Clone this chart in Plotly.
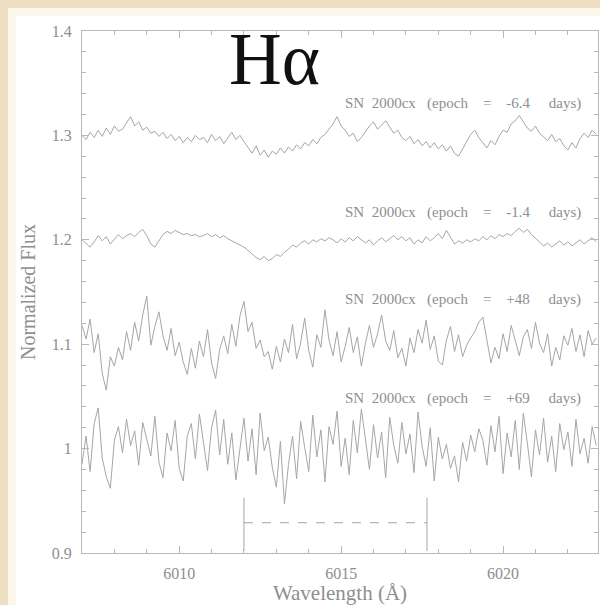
import numpy as np
import plotly.graph_objects as go

# Wavelength grid (Angstrom), 0.125 A sampling
wave_start = 6007.0
wave_step = 0.125
n_pix = 128
wavelength = np.round(wave_start + wave_step * np.arange(n_pix), 3)

# Normalized flux for each epoch (already offset for display)
flux_m64 = [
    1.300, 1.296, 1.303, 1.298, 1.305, 1.299, 1.307, 1.301, 1.309, 1.304,
    1.306, 1.312, 1.318, 1.309, 1.313, 1.305, 1.308, 1.302, 1.304, 1.299,
    1.303, 1.297, 1.301, 1.295, 1.299, 1.293, 1.298, 1.294, 1.300, 1.296,
    1.298, 1.293, 1.301, 1.295, 1.299, 1.292, 1.297, 1.303, 1.296, 1.300,
    1.294, 1.288, 1.283, 1.290, 1.281, 1.286, 1.279, 1.285, 1.282, 1.288,
    1.283, 1.289, 1.285, 1.291, 1.287, 1.293, 1.290, 1.296, 1.292, 1.298,
    1.301, 1.306, 1.311, 1.318, 1.309, 1.305, 1.299, 1.302, 1.294, 1.298,
    1.304, 1.309, 1.313, 1.306, 1.310, 1.314, 1.308, 1.302, 1.305, 1.298,
    1.295, 1.299, 1.292, 1.296, 1.290, 1.294, 1.288, 1.293, 1.287, 1.291,
    1.285, 1.290, 1.283, 1.280, 1.287, 1.294, 1.301, 1.305, 1.298, 1.293,
    1.288, 1.295, 1.291, 1.299, 1.305, 1.303, 1.311, 1.314, 1.319, 1.313,
    1.307, 1.304, 1.309, 1.302, 1.298, 1.295, 1.301, 1.294, 1.297, 1.290,
    1.286, 1.293, 1.288, 1.297, 1.302, 1.298, 1.305, 1.301,
]

flux_m14 = [
    1.200, 1.196, 1.193, 1.198, 1.204, 1.199, 1.203, 1.196, 1.201, 1.205,
    1.201, 1.204, 1.206, 1.203, 1.207, 1.210, 1.204, 1.196, 1.193, 1.199,
    1.205, 1.208, 1.206, 1.209, 1.207, 1.205, 1.206, 1.204, 1.205, 1.203,
    1.204, 1.206, 1.203, 1.205, 1.202, 1.204, 1.201, 1.199, 1.197, 1.195,
    1.193, 1.190, 1.186, 1.183, 1.181, 1.184, 1.180, 1.182, 1.186, 1.184,
    1.188, 1.191, 1.195, 1.193, 1.197, 1.199, 1.196, 1.200, 1.198, 1.201,
    1.199, 1.202, 1.200, 1.197, 1.201, 1.198, 1.202, 1.199, 1.203, 1.200,
    1.197, 1.200, 1.195, 1.199, 1.202, 1.198, 1.201, 1.204, 1.200, 1.203,
    1.199, 1.202, 1.196, 1.200, 1.197, 1.203, 1.199, 1.202, 1.206, 1.201,
    1.209, 1.203, 1.196, 1.199, 1.197, 1.200, 1.198, 1.201, 1.199, 1.203,
    1.200, 1.204, 1.201, 1.205, 1.203, 1.206, 1.204, 1.208, 1.211, 1.207,
    1.210, 1.205, 1.201, 1.198, 1.194, 1.197, 1.193, 1.196, 1.199, 1.195,
    1.198, 1.194, 1.197, 1.200, 1.196, 1.199, 1.202, 1.198,
]

flux_p48 = [
    1.118, 1.105, 1.124, 1.092, 1.110, 1.072, 1.056, 1.088, 1.079, 1.097,
    1.085, 1.112, 1.094, 1.121, 1.103, 1.128, 1.146, 1.099, 1.117, 1.131,
    1.108, 1.094, 1.115, 1.089, 1.102, 1.083, 1.071, 1.096, 1.077, 1.103,
    1.088, 1.114, 1.082, 1.067, 1.095, 1.108, 1.091, 1.119, 1.098, 1.127,
    1.141, 1.112, 1.121, 1.096, 1.104, 1.088, 1.093, 1.076, 1.098, 1.083,
    1.105, 1.092, 1.119, 1.086, 1.101, 1.125, 1.094, 1.078, 1.109, 1.097,
    1.133, 1.104, 1.089, 1.112, 1.083, 1.098, 1.116, 1.092, 1.107, 1.079,
    1.101, 1.118, 1.097, 1.110, 1.128, 1.103, 1.094, 1.113, 1.087, 1.096,
    1.079, 1.106, 1.092, 1.114, 1.101, 1.123, 1.095, 1.108, 1.084, 1.080,
    1.104, 1.117, 1.093, 1.109, 1.088, 1.099, 1.106, 1.112, 1.121, 1.126,
    1.104, 1.082, 1.097, 1.086, 1.110, 1.093, 1.118, 1.102, 1.089, 1.107,
    1.114, 1.096, 1.121, 1.101, 1.092, 1.110, 1.079, 1.097, 1.085, 1.108,
    1.099, 1.115, 1.093, 1.109, 1.088, 1.113, 1.100, 1.106,
]

flux_p69 = [
    0.985, 1.012, 0.978, 1.024, 1.039, 0.991, 0.973, 0.962, 1.008, 1.021,
    0.996, 1.028, 1.003, 1.017, 0.984, 1.025, 1.009, 0.993, 1.031, 0.987,
    0.972, 1.015, 0.998, 1.027, 0.981, 0.969, 1.012, 1.024, 0.990, 1.033,
    1.006, 0.979, 1.020, 1.037, 0.994, 1.028, 0.985, 1.015, 0.970, 1.002,
    1.029, 0.988, 1.019, 0.975, 1.034, 0.998, 1.011, 0.982, 0.963, 1.007,
    0.947, 0.985, 1.012, 0.971, 1.026, 1.001, 0.978, 1.032, 0.992, 1.018,
    0.968, 1.021, 1.004, 1.036, 0.983, 1.010, 0.975, 1.027, 0.996, 1.038,
    1.009, 0.980, 1.023, 0.991, 1.016, 0.972, 1.030, 1.003, 0.986, 1.025,
    0.995, 1.014, 0.977, 1.035, 1.002, 0.983, 1.020, 0.969, 1.011, 0.990,
    1.004, 0.981, 0.993, 0.968, 1.006, 0.988, 1.013, 0.997, 1.019, 1.008,
    0.984, 1.022, 0.997, 1.031, 0.976, 1.015, 0.992, 1.027, 0.980, 1.034,
    1.005, 0.973, 1.018, 0.994, 1.029, 0.987, 1.012, 0.978, 1.024, 0.999,
    1.016, 0.983, 1.028, 0.995, 1.010, 0.986, 1.021, 1.003,
]

spectra = [flux_m64, flux_m14, flux_p48, flux_p69]
epoch_labels = [
    "SN  2000cx   (epoch    =    -6.4     days)",
    "SN  2000cx   (epoch    =    -1.4     days)",
    "SN  2000cx   (epoch    =    +48     days)",
    "SN  2000cx   (epoch    =    +69     days)",
]
label_flux = [1.331, 1.226, 1.143, 1.048]
label_wave = 6015.05

# Wavelength window marked under the spectra
window_edges = [6012.0, 6017.65]
window_level = 0.929
window_span = [0.953, 0.902]

x_range = [6007.0, 6022.93]
y_range = [0.9, 1.4]

W, H = 600, 605
M_L, M_R, M_T, M_B = 82, 2, 31, 52

LINE = "#a6a6a6"
AXIS = "#b8b8b8"
TEXT = "#8e8e8e"
SERIF = "Liberation Serif, Times New Roman, serif"


def px_x(px):
    return (px - M_L) / (W - M_L - M_R)


def px_y(py):
    return (H - M_B - py) / (H - M_T - M_B)


fig = go.Figure()

for flux in spectra:
    fig.add_trace(go.Scatter(
        x=wavelength, y=flux, mode="lines",
        line=dict(color=LINE, width=1), hoverinfo="skip", showlegend=False,
    ))

# window bracket
for edge in window_edges:
    fig.add_trace(go.Scatter(
        x=[edge, edge], y=window_span, mode="lines",
        line=dict(color=LINE, width=1), hoverinfo="skip", showlegend=False,
    ))
fig.add_trace(go.Scatter(
    x=window_edges, y=[window_level, window_level], mode="lines",
    line=dict(color=LINE, width=1, dash="dash"), hoverinfo="skip", showlegend=False,
))

for txt, yv in zip(epoch_labels, label_flux):
    fig.add_annotation(
        x=label_wave, y=yv, xref="x", yref="y", text=txt.replace(" ", "\u00a0"),
        showarrow=False, xanchor="left", yanchor="middle",
        font=dict(family=SERIF, size=15, color=TEXT),
    )

fig.add_annotation(
    x=6012.93, y=1.373, xref="x", yref="y", text="H\u03b1",
    showarrow=False, xanchor="center", yanchor="middle",
    font=dict(family=SERIF, size=73, color="#111111"),
)

# cream frame along the top and left edges of the page
frame_shapes = [
    dict(x0=px_x(0), x1=px_x(W), y0=px_y(0), y1=px_y(16), color="#fbf6ea"),
    dict(x0=px_x(0), x1=px_x(16), y0=px_y(0), y1=px_y(H), color="#fbf6ea"),
    dict(x0=px_x(0), x1=px_x(W), y0=px_y(0), y1=px_y(8), color="#eddfc2"),
    dict(x0=px_x(0), x1=px_x(8), y0=px_y(0), y1=px_y(H), color="#eddfc2"),
]
for s in frame_shapes:
    fig.add_shape(
        type="rect", xref="paper", yref="paper",
        x0=s["x0"], x1=s["x1"], y0=s["y0"], y1=s["y1"],
        fillcolor=s["color"], line=dict(width=0), layer="below",
    )

axis_common = dict(
    showgrid=False, zeroline=False, showline=True, linecolor=AXIS, linewidth=1,
    mirror="ticks", ticks="inside", ticklen=7, tickcolor=AXIS, tickwidth=1,
    tickfont=dict(family=SERIF, size=16, color=TEXT), ticklabelstandoff=6,
)

fig.update_layout(
    width=W, height=H,
    margin=dict(l=M_L, r=M_R, t=M_T, b=M_B),
    paper_bgcolor="white", plot_bgcolor="white",
    xaxis=dict(
        range=x_range, tick0=6010, dtick=5,
        minor=dict(dtick=1, ticks="inside", ticklen=4, tickcolor=AXIS),
        title=dict(text="Wavelength (\u00c5)", font=dict(family=SERIF, size=21, color=TEXT), standoff=6),
        automargin=False,
        **axis_common,
    ),
    yaxis=dict(
        range=y_range, tick0=0.9, dtick=0.1,
        minor=dict(dtick=0.02, ticks="inside", ticklen=4, tickcolor=AXIS),
        title=dict(text="Normalized Flux", font=dict(family=SERIF, size=20, color=TEXT), standoff=10),
        automargin=False,
        **axis_common,
    ),
)

fig.write_html("out.html")
